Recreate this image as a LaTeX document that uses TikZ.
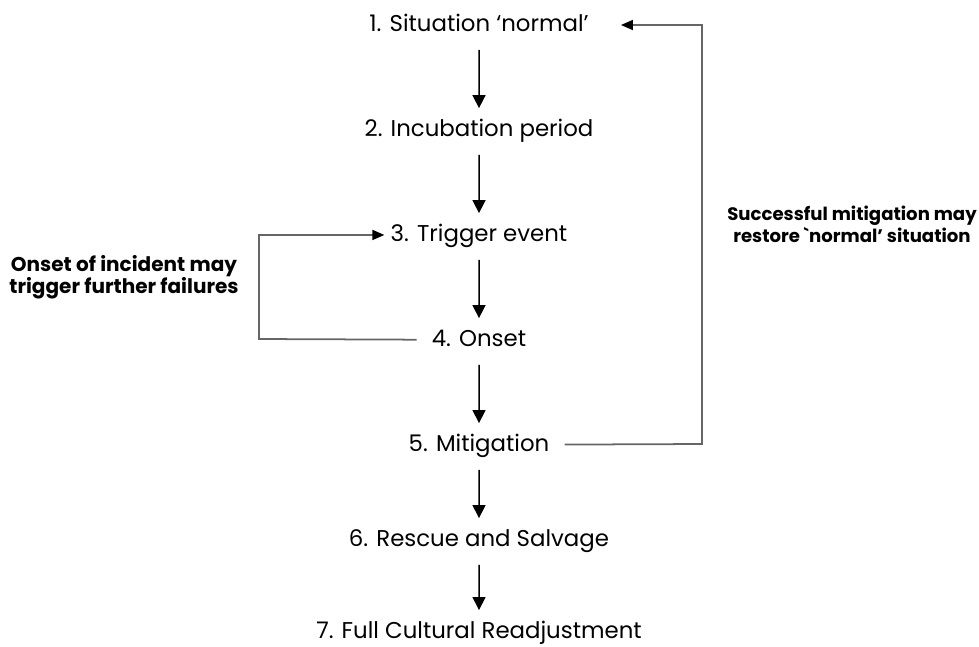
\documentclass[tikz,border=0pt]{standalone}
\usepackage{fontspec}
\setmainfont{Poppins}
\usetikzlibrary{trees, arrows.meta}

\begin{document}
\begin{tikzpicture}[
    x=0.02cm, y=0.02cm,
    grow=down,
    level distance=2.1cm,
    level 5/.style={level distance=1.9cm},
    level 6/.style={level distance=1.84cm},
    every node/.style={font=\fontsize{13}{15}\selectfont, inner sep=0pt,
        text height=0.36cm, text depth=0.1cm},
    parent anchor=south, child anchor=north,
    edge from parent/.style={draw, line width=0.85pt,
        -{Triangle[width=0.26cm, length=0.26cm]},
        shorten <=0.26cm, shorten >=0.2cm},
    back/.style={draw, line width=1pt, black!60,
        -{Triangle[width=0.2cm, length=0.24cm, fill=black, color=black]}},
    remark/.style={font=\fontsize{11.4}{12.6}\selectfont\bfseries, align=center,
        text height=, text depth=},
    ]
    \useasboundingbox (0,0) rectangle (979,-646);

    \node (s1) at (479,-25) {1. Situation ‘normal’}
        child {node (s2) {2. Incubation period}
            child {node (s3) {3. Trigger event}
                child {node (s4) {4. Onset}
                    child {node (s5) {5. Mitigation}
                        child {node (s6) {6. Rescue and Salvage}
                            child {node (s7) {7. Full Cultural Readjustment}}
                        }
                    }
                }
            }
        };

    % feedback loops
    \coordinate (lt) at (259,-339);
    \coordinate (rt) at (702,-444);
    \draw[back, shorten <=0.3cm, shorten >=0.12cm] (s4) -- (lt) |- (s3);
    \draw[back, shorten <=0.3cm, shorten >=0.64cm] (s5) -- (rt) |- (s1);

    \node[remark] (n1) at (124,-277) {Onset of incident may\\trigger further failures};
    \node[remark, font=\fontsize{10.3}{12.6}\selectfont\bfseries] (n2) at (852,-224)
        {Successful mitigation may\\restore \textasciigrave normal’ situation};
\end{tikzpicture}
\end{document}
